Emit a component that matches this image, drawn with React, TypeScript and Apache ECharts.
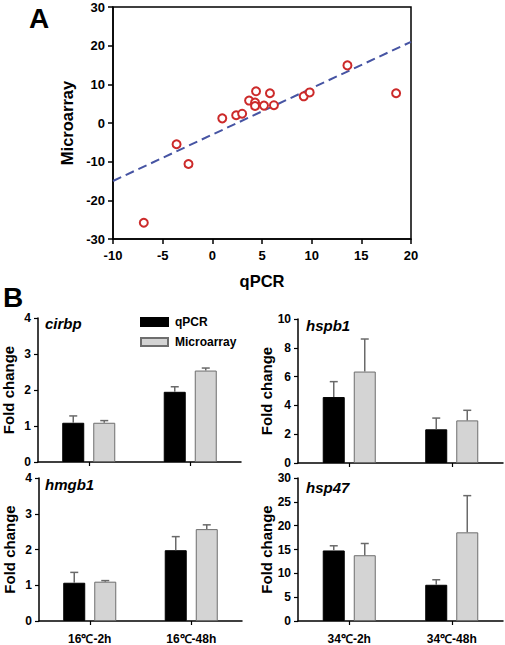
import React, { useEffect, useRef } from "react";
import * as echarts from "echarts";

const FONT = '"Liberation Sans", Arial, Helvetica, sans-serif';

// Panel A: scatter
const qpcrValues = [-6.9, -3.6, -2.4, 1.0, 2.4, 3.0, 3.7, 4.4, 4.3, 4.3, 5.2, 5.8, 6.2, 9.2, 9.8, 13.6, 18.5];
const microarrayValues = [-25.8, -5.5, -10.6, 1.2, 2.0, 2.4, 5.8, 8.2, 5.3, 4.4, 4.5, 7.7, 4.6, 6.9, 7.9, 14.9, 7.7];
const fitLineX = [-10, 20];
const fitLineY = [-15, 21];

// Panel B: bars
const categories16 = ["16\u2103-2h", "16\u2103-48h"];
const categories34 = ["34\u2103-2h", "34\u2103-48h"];

const cirbpQ = [1.09, 1.95];
const cirbpQErr = [0.19, 0.14];
const cirbpM = [1.09, 2.54];
const cirbpMErr = [0.06, 0.07];

const hspb1Q = [4.58, 2.34];
const hspb1QErr = [1.07, 0.78];
const hspb1M = [6.35, 2.96];
const hspb1MErr = [2.26, 0.7];

const hmgb1Q = [1.07, 1.98];
const hmgb1QErr = [0.29, 0.38];
const hmgb1M = [1.1, 2.57];
const hmgb1MErr = [0.03, 0.12];

const hsp47Q = [14.8, 7.6];
const hsp47QErr = [0.98, 1.05];
const hsp47M = [13.8, 18.6];
const hsp47MErr = [2.46, 7.7];

const yTicks = [
  { max: 4, interval: 1 },
  { max: 10, interval: 2 },
  { max: 4, interval: 1 },
  { max: 30, interval: 5 },
];

const panels = [
  { name: "cirbp", cats: categories16, q: cirbpQ, qe: cirbpQErr, m: cirbpM, me: cirbpMErr, showLabels: false },
  { name: "hspb1", cats: categories34, q: hspb1Q, qe: hspb1QErr, m: hspb1M, me: hspb1MErr, showLabels: false },
  { name: "hmgb1", cats: categories16, q: hmgb1Q, qe: hmgb1QErr, m: hmgb1M, me: hmgb1MErr, showLabels: true },
  { name: "hsp47", cats: categories34, q: hsp47Q, qe: hsp47QErr, m: hsp47M, me: hsp47MErr, showLabels: true },
];

const gridBoxes = [
  { left: 113, top: 7, width: 298, height: 232 },
  { left: 38, top: 318, width: 203, height: 144 },
  { left: 298, top: 319, width: 205, height: 144 },
  { left: 39, top: 478, width: 203, height: 143 },
  { left: 298, top: 478, width: 205, height: 143 },
];

const geneLabelPos = [
  { x: 45, y: 323 },
  { x: 306, y: 325 },
  { x: 45, y: 484 },
  { x: 306, y: 487 },
];

const labelStyle = { color: "#000", fontFamily: FONT, fontWeight: "bold" as const };

function errorBarSeries(name: string, values: number[], errs: number[], axisIdx: number, offset: number) {
  return {
    name: name + "-err",
    type: "custom",
    xAxisIndex: axisIdx,
    yAxisIndex: axisIdx,
    z: 5,
    silent: true,
    encode: { x: 0, y: 1 },
    data: values.map((v, i) => [i, v, errs[i]]),
    renderItem: (params: any, api: any) => {
      const i = api.value(0);
      const v = api.value(1);
      const e = api.value(2);
      const base = api.coord([i, v]);
      const top = api.coord([i, v + e]);
      const x = base[0] + offset;
      const st = { stroke: "#6a6a6a", lineWidth: 1.5 };
      return {
        type: "group",
        children: [
          { type: "line", shape: { x1: x, y1: base[1], x2: x, y2: top[1] }, style: st },
          { type: "line", shape: { x1: x - 4, y1: top[1], x2: x + 4, y2: top[1] }, style: st },
        ],
      };
    },
  };
}

export default function App() {
  const ref = useRef<HTMLDivElement>(null);

  useEffect(() => {
    if (!ref.current) return;
    const chart = echarts.init(ref.current, null, { renderer: "svg" });

    const grids: any[] = gridBoxes.map((g, i) => ({
      ...g,
      containLabel: false,
      show: i === 0,
      borderColor: "#000",
      borderWidth: 1.5,
      backgroundColor: "transparent",
    }));

    const xAxes: any[] = [
      {
        type: "value",
        gridIndex: 0,
        min: -10,
        max: 20,
        interval: 5,
        splitLine: { show: false },
        axisLine: { show: true, onZero: false, lineStyle: { color: "#000", width: 1.5 } },
        axisTick: { show: true, inside: false, length: 5, lineStyle: { color: "#000", width: 1.5 } },
        axisLabel: { ...labelStyle, fontSize: 13, margin: 10 },
        name: "qPCR",
        nameLocation: "middle",
        nameGap: 33,
        nameTextStyle: { ...labelStyle, fontSize: 16.5 },
      },
    ];
    const yAxes: any[] = [
      {
        type: "value",
        gridIndex: 0,
        min: -30,
        max: 30,
        interval: 10,
        splitLine: { show: false },
        axisLine: { show: true, onZero: false, lineStyle: { color: "#000", width: 1.5 } },
        axisTick: { show: true, inside: false, length: 5, lineStyle: { color: "#000", width: 1.5 } },
        axisLabel: { ...labelStyle, fontSize: 13, margin: 8 },
        name: "Microarray",
        nameLocation: "middle",
        nameGap: 34,
        nameTextStyle: { ...labelStyle, fontSize: 16.5 },
      },
    ];

    const series: any[] = [
      {
        name: "fit",
        type: "line",
        xAxisIndex: 0,
        yAxisIndex: 0,
        data: fitLineX.map((x, i) => [x, fitLineY[i]]),
        symbol: "none",
        lineStyle: { color: "#4654a3", width: 2, type: [9, 5] },
        z: 2,
      },
      {
        name: "points",
        type: "scatter",
        xAxisIndex: 0,
        yAxisIndex: 0,
        data: qpcrValues.map((x, i) => [x, microarrayValues[i]]),
        symbol: "emptyCircle",
        symbolSize: 8,
        itemStyle: { color: "#cc2a2a", borderColor: "#cc2a2a", borderWidth: 1, opacity: 1 },
        z: 3,
      },
    ];

    panels.forEach((p, k) => {
      const idx = k + 1;
      const isRight = k % 2 === 1;
      xAxes.push({
        type: "category",
        gridIndex: idx,
        data: p.cats,
        axisLine: { show: true, lineStyle: { color: "#000", width: 1.5 } },
        axisTick: { show: true, alignWithLabel: true, length: 4, lineStyle: { color: "#000", width: 1.2 } },
        axisLabel: { show: p.showLabels, ...labelStyle, fontSize: 12, margin: 12 },
        splitLine: { show: false },
      });
      yAxes.push({
        type: "value",
        gridIndex: idx,
        min: 0,
        max: yTicks[k].max,
        interval: yTicks[k].interval,
        splitLine: { show: false },
        axisLine: { show: true, lineStyle: { color: "#000", width: 1.5 } },
        axisTick: { show: true, length: 4, lineStyle: { color: "#000", width: 1.2 } },
        axisLabel: { ...labelStyle, fontSize: 12, margin: 7 },
        name: "Fold change",
        nameLocation: "middle",
        nameGap: isRight ? 24 : 22,
        nameTextStyle: { ...labelStyle, fontSize: 15 },
      });
      series.push(
        {
          name: "qPCR",
          type: "bar",
          xAxisIndex: idx,
          yAxisIndex: idx,
          data: p.q,
          barWidth: 22,
          barGap: "41%",
          itemStyle: { color: "#000", borderColor: "#000", borderWidth: 1 },
          z: 2,
        },
        {
          name: "Microarray",
          type: "bar",
          xAxisIndex: idx,
          yAxisIndex: idx,
          data: p.m,
          barWidth: 22,
          barGap: "41%",
          itemStyle: { color: "#d4d4d4", borderColor: "#6e6e6e", borderWidth: 1 },
          z: 2,
        },
        errorBarSeries("qPCR", p.q, p.qe, idx, -15.5),
        errorBarSeries("Microarray", p.m, p.me, idx, 15.5)
      );
    });

    const graphic: any[] = [
      { type: "text", left: 29, top: 4, style: { text: "A", fontSize: 28, fontWeight: "bold", fontFamily: FONT, fill: "#000" } },
      { type: "text", left: 3, top: 283, style: { text: "B", fontSize: 28, fontWeight: "bold", fontFamily: FONT, fill: "#000" } },
      ...panels.map((p, k) => ({
        type: "text",
        x: geneLabelPos[k].x,
        y: geneLabelPos[k].y,
        style: {
          text: p.name,
          fontSize: 15,
          fontWeight: "bold",
          fontStyle: "italic",
          fontFamily: FONT,
          fill: "#000",
          verticalAlign: "middle",
          align: "left",
        },
      })),
    ];

    chart.setOption({
      animation: false,
      backgroundColor: "#fff",
      grid: grids,
      xAxis: xAxes,
      yAxis: yAxes,
      series,
      graphic,
      legend: {
        data: ["qPCR", "Microarray"],
        left: 140,
        top: 316,
        orient: "vertical",
        itemWidth: 27,
        itemHeight: 8,
        itemGap: 8,
        icon: "rect",
        textStyle: { ...labelStyle, fontSize: 12, padding: [0, 0, 0, 2] },
        padding: 0,
        selectedMode: false,
      },
    });

    return () => chart.dispose();
  }, []);

  return (
    <div
      ref={ref}
      style={{ position: "fixed", left: 0, top: 0, width: 505, height: 645, background: "#fff" }}
    />
  );
}
